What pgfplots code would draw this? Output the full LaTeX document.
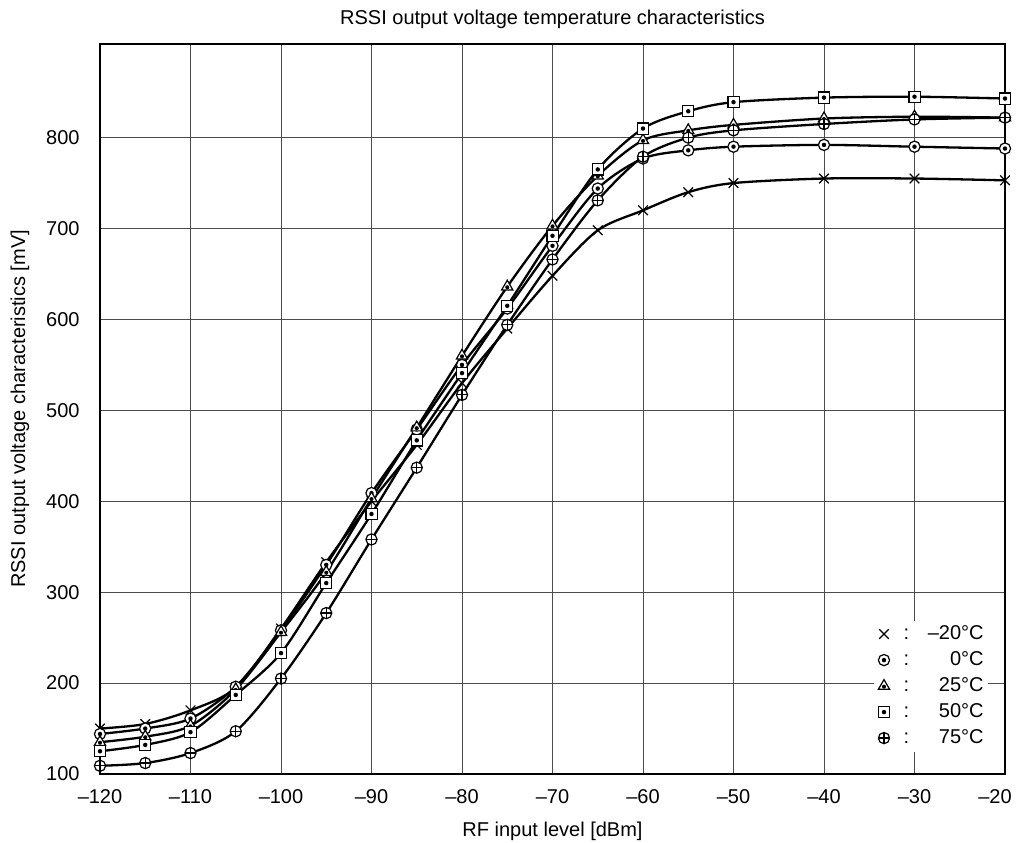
\documentclass[border=0pt]{standalone}
\usepackage{fontspec}
\setmainfont{Liberation Sans}
\usepackage{pgfplots}
\pgfplotsset{compat=1.18}

\pgfdeclareplotmark{odot}{%
  \pgfpathcircle{\pgfpointorigin}{\pgfplotmarksize}%
  \pgfusepathqfillstroke
  \begin{pgfscope}\pgfsetfillcolor{black}%
  \pgfpathcircle{\pgfpointorigin}{0.4\pgfplotmarksize}\pgfusepathqfill
  \end{pgfscope}}
\pgfdeclareplotmark{tridot}{%
  \pgfpathmoveto{\pgfpointpolar{90}{1.2\pgfplotmarksize}}%
  \pgfpathlineto{\pgfpointpolar{-30}{1.2\pgfplotmarksize}}%
  \pgfpathlineto{\pgfpointpolar{210}{1.2\pgfplotmarksize}}%
  \pgfpathclose\pgfusepathqfillstroke
  \begin{pgfscope}\pgfsetfillcolor{black}%
  \pgfpathcircle{\pgfpoint{0pt}{-0.1\pgfplotmarksize}}{0.38\pgfplotmarksize}\pgfusepathqfill
  \end{pgfscope}}
\pgfdeclareplotmark{sqdot}{%
  \pgfpathrectangle{\pgfpoint{-\pgfplotmarksize}{-\pgfplotmarksize}}{\pgfpoint{2\pgfplotmarksize}{2\pgfplotmarksize}}%
  \pgfusepathqfillstroke
  \begin{pgfscope}\pgfsetfillcolor{black}%
  \pgfpathcircle{\pgfpointorigin}{0.4\pgfplotmarksize}\pgfusepathqfill
  \end{pgfscope}}
\pgfdeclareplotmark{cplus}{%
  \pgfpathcircle{\pgfpointorigin}{\pgfplotmarksize}%
  \pgfusepathqfillstroke
  \pgfpathmoveto{\pgfpoint{-\pgfplotmarksize}{0pt}}\pgfpathlineto{\pgfpoint{\pgfplotmarksize}{0pt}}%
  \pgfpathmoveto{\pgfpoint{0pt}{-\pgfplotmarksize}}\pgfpathlineto{\pgfpoint{0pt}{\pgfplotmarksize}}%
  \pgfusepathqstroke}

\begin{document}
\begin{tikzpicture}[font=\fontsize{10}{12}\selectfont]
\begin{axis}[
  scale only axis, width=452.5pt, height=365pt,
  xmin=-120, xmax=-20, ymin=100, ymax=903,
  xtick={-120,-110,...,-20},
  xticklabels={--120,--110,--100,--90,--80,--70,--60,--50,--40,--30,\makebox[0pt][c]{\hspace{-10pt}--20}},
  ytick={100,200,...,800},
  yticklabels={100,200,300,400,500,600,700,800},
  grid=major, major grid style={black!70, line width=0.5pt},
  axis line style={line width=1.2pt},
  tick style={draw=none},
  xticklabel style={anchor=center, inner sep=0pt, yshift=-11.5pt},
  yticklabel style={anchor=east, inner sep=0pt, xshift=-10pt},
  title={RSSI output voltage temperature characteristics},
  title style={at={(0.5,1)}, anchor=center, yshift=6.5pt},
  xlabel={RF input level [dBm]},
  xlabel style={at={(axis description cs:0.5,-0.078)}, anchor=center},
  ylabel={RSSI output voltage characteristics [mV]},
  ylabel style={at={(axis description cs:-0.0884,0.5)}, anchor=center},
  every axis plot/.append style={line width=1.15pt, smooth, black,
     mark options={line width=0.6pt, fill=white, solid}},
  legend image code/.code={\draw[#1,only marks] plot coordinates {(4pt,0pt)};},
  legend style={at={(1,0)}, anchor=south east, xshift=-8.5pt, yshift=11pt,
     draw=none, fill=white, inner sep=2pt, row sep=3.5pt, column sep=7pt,
     nodes={inner sep=0pt, text height=7.5pt, text depth=2pt}},
  legend cell align=right,
]
\addplot[mark=x, mark size=3.4pt] coordinates {
(-120,150) (-115,155) (-110,170) (-105,195) (-100,260) (-95,333) (-90,400) (-85,462) (-80,530) (-75,590) (-70,648) (-65,698) (-60,720) (-55,740) (-50,750) (-40,755) (-30,755) (-20,753)};
\addlegendentry{\makebox[10pt][l]{:}\makebox[30pt][r]{--20°C}}
\addplot[mark=odot, mark size=2.8pt] coordinates {
(-120,144) (-115,150) (-110,161) (-105,196) (-100,258) (-95,330) (-90,409) (-85,479) (-80,550) (-75,612) (-70,681) (-65,744) (-60,777) (-55,786) (-50,790) (-40,792) (-30,790) (-20,788)};
\addlegendentry{\makebox[10pt][l]{:}\makebox[30pt][r]{0°C}}
\addplot[mark=tridot, mark size=2.7pt] coordinates {
(-120,135) (-115,141) (-110,153) (-105,193) (-100,256) (-95,322) (-90,403) (-85,481) (-80,560) (-75,636) (-70,703) (-65,758) (-60,797) (-55,808) (-50,814) (-40,821) (-30,823) (-20,822)};
\addlegendentry{\makebox[10pt][l]{:}\makebox[30pt][r]{25°C}}
\addplot[mark=sqdot, mark size=2.8pt] coordinates {
(-120,125) (-115,132) (-110,146) (-105,187) (-100,233) (-95,310) (-90,386) (-85,467) (-80,541) (-75,615) (-70,692) (-65,765) (-60,810) (-55,829) (-50,839) (-40,844) (-30,845) (-20,843)};
\addlegendentry{\makebox[10pt][l]{:}\makebox[30pt][r]{50°C}}
\addplot[mark=cplus, mark size=2.8pt] coordinates {
(-120,109) (-115,112) (-110,123) (-105,147) (-100,205) (-95,277) (-90,358) (-85,437) (-80,517) (-75,594) (-70,666) (-65,731) (-60,779) (-55,800) (-50,808) (-40,815) (-30,820) (-20,822)};
\addlegendentry{\makebox[10pt][l]{:}\makebox[30pt][r]{75°C}}
\end{axis}
\pgfresetboundingbox
\path[use as bounding box] ([shift={(-50pt,-34.5pt)}]current axis.south west) rectangle ([shift={(6.5pt,22pt)}]current axis.north east);
\end{tikzpicture}
\end{document}
